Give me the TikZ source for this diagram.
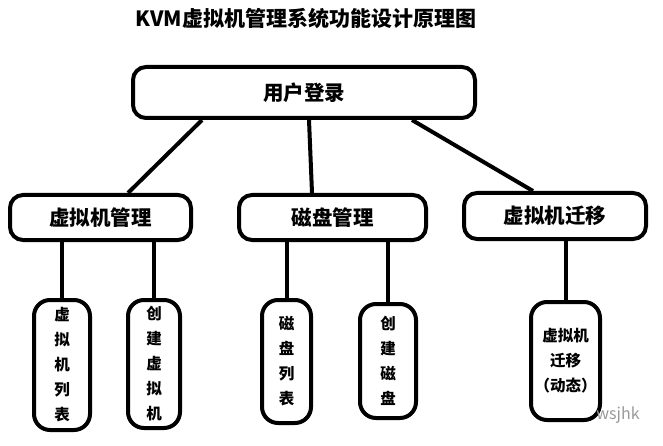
\documentclass[tikz,border=0pt]{standalone}
\usepackage{fontspec}
\setmainfont{Noto Sans CJK SC}
\begin{document}
\begin{tikzpicture}[x=1pt,y=-1pt,
  box/.style={draw,line width=4pt,rounded corners=13pt,inner sep=0pt,
    font=\fontsize{20.5}{24}\selectfont\bfseries},
  leaf/.style={draw,line width=4pt,rounded corners=16pt,inner sep=0pt,align=center,
    font=\fontsize{15.5}{25}\selectfont\bfseries},
  link/.style={line width=4pt}]
\useasboundingbox (0,0) rectangle (663,446);
\node[font=\fontsize{21}{25}\selectfont\bfseries] (title) at (306,19) {KVM虚拟机管理系统功能设计原理图};
% top level
\node[box,minimum width=342pt,minimum height=51pt] (login) at (304,92.5) {用户登录};
% second level
\node[box,minimum width=181pt,minimum height=45pt] (vmmgr) at (100.5,217.5) {虚拟机管理};
\node[box,minimum width=187pt,minimum height=45pt] (diskmgr) at (332.5,217.5) {磁盘管理};
\node[box,minimum width=182pt,minimum height=46pt] (migmgr) at (555,216) {虚拟机迁移};
% leaves
\node[leaf,minimum width=56pt,minimum height=130pt] (vmlist) at (62,365) {虚\\拟\\机\\列\\表};
\node[leaf,minimum width=52pt,minimum height=128pt] (vmcreate) at (154,364) {创\\建\\虚\\拟\\机};
\node[leaf,minimum width=49pt,minimum height=123pt] (disklist) at (286.5,361.5) {磁\\盘\\列\\表};
\node[leaf,minimum width=56pt,minimum height=114pt] (diskcreate) at (388,361) {创\\建\\磁\\盘};
\node[leaf,minimum width=69pt,minimum height=118pt] (migleaf) at (565.5,361) {虚拟机\\迁移\\（动态）};
\node[text=black!40,font=\fontsize{16}{18}\selectfont] (mark) at (618,415) {wsjhk};
% connectors
\draw[link] ([xshift=-102pt]login.south) -- ([xshift=27.5pt]vmmgr.north);
\draw[link] ([xshift=5pt]login.south) -- ([xshift=-20.5pt]diskmgr.north);
\draw[link] ([xshift=108pt]login.south) -- ([xshift=-22pt]migmgr.north);
\draw[link] (vmlist.north) -- (vmlist.north |- vmmgr.south);
\draw[link] (vmcreate.north) -- (vmcreate.north |- vmmgr.south);
\draw[link] (disklist.north) -- (disklist.north |- diskmgr.south);
\draw[link] (diskcreate.north) -- (diskcreate.north |- diskmgr.south);
\draw[link] (migleaf.north) -- (migleaf.north |- migmgr.south);
\end{tikzpicture}
\end{document}
